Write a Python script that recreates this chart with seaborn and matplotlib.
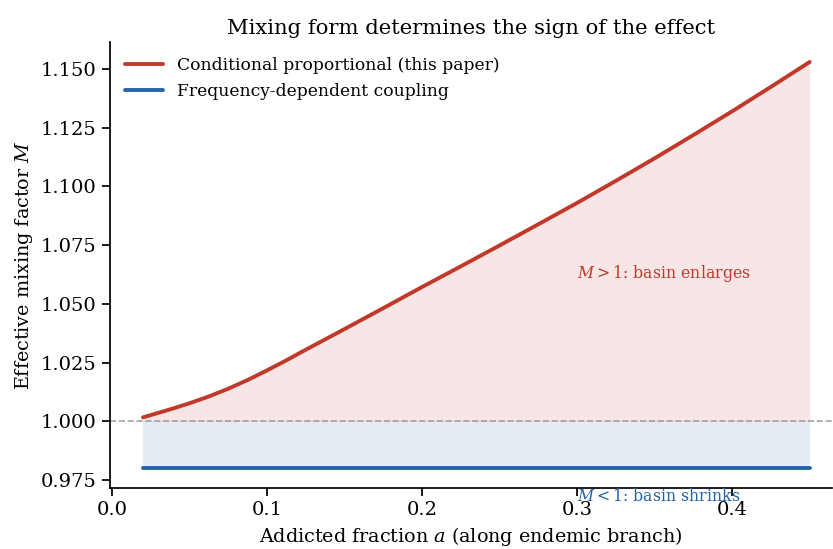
import numpy as np
import pandas as pd
import matplotlib
matplotlib.use("Agg")
import matplotlib.pyplot as plt
import seaborn as sns

a_vals = [0.02, 0.0375, 0.05, 0.0625, 0.075, 0.0875, 0.10, 0.1125, 0.125, 0.15, 0.175, 0.20,
          0.225, 0.25, 0.275, 0.30, 0.325, 0.35, 0.375, 0.40, 0.425, 0.45]
M_cond = [1.0017, 1.0051, 1.0077, 1.0106, 1.0139, 1.0176, 1.0217, 1.0260, 1.0305, 1.0393,
          1.0482, 1.0572, 1.0660, 1.0749, 1.0839, 1.0930, 1.1024, 1.1120, 1.1219, 1.1320,
          1.1424, 1.1530]
M_freq = [0.98] * len(a_vals)
labels = ["Conditional proportional (this paper)", "Frequency-dependent coupling"]

RED = "#c0392b"
BLUE = "#2563a8"

sns.set_theme(style="ticks")
plt.rcParams['font.family'] = ['DejaVu Serif']
plt.rcParams['mathtext.fontset'] = 'dejavuserif'
for k in ['text.color', 'axes.labelcolor', 'xtick.color', 'ytick.color', 'axes.edgecolor']:
    plt.rcParams[k] = 'black'

df = pd.concat([
    pd.DataFrame({"a": a_vals, "M": M_cond, "model": labels[0]}),
    pd.DataFrame({"a": a_vals, "M": M_freq, "model": labels[1]}),
])

fig = plt.figure(figsize=(8.33, 5.49), dpi=100)
ax = fig.add_axes([0.132, 0.111, 0.867, 0.8125])

a = np.array(a_vals)
ax.fill_between(a, 1.0, np.array(M_cond), color=RED, alpha=0.12, linewidth=0)
ax.fill_between(a, np.array(M_freq), 1.0, color=BLUE, alpha=0.12, linewidth=0)
ax.axhline(1.0, color="#999999", linestyle="--", linewidth=1.2, alpha=0.9)

sns.lineplot(data=df, x="a", y="M", hue="model", palette=[RED, BLUE],
             linewidth=2.8, ax=ax)

ax.text(0.30, 1.0609, r"$M>1$: basin enlarges", color=RED, fontsize=11.3)
ax.text(0.30, 0.9662, r"$M<1$: basin shrinks", color=BLUE, fontsize=11.3, clip_on=False)

ax.set_xlim(-0.0013, 0.4645)
ax.set_ylim(0.9716, 1.1615)
yt = [0.975, 1.0, 1.025, 1.05, 1.075, 1.1, 1.125, 1.15]
ax.set_yticks(yt)
ax.set_yticklabels([f"{v:.3f}" for v in yt])
ax.set_xticks([0.0, 0.1, 0.2, 0.3, 0.4])
ax.tick_params(labelsize=14)
ax.set_xlabel(r"Addicted fraction $a$ (along endemic branch)", fontsize=13.8)
ax.set_ylabel(r"Effective mixing factor $M$", fontsize=13.8)
ax.set_title("Mixing form determines the sign of the effect", fontsize=15.2)
ax.legend(loc="upper left", frameon=False, fontsize=12.3, title=None, handlelength=2.2)
sns.despine(ax=ax)

fig.savefig("out.png", dpi=100)
